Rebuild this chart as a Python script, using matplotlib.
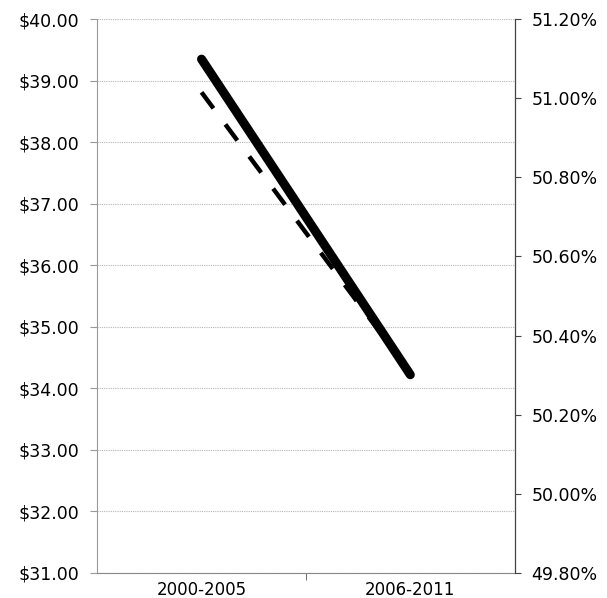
import matplotlib
matplotlib.use("Agg")
import matplotlib.pyplot as plt
from matplotlib.ticker import FuncFormatter

# data
periods = ["2000-2005", "2006-2011"]
price = [39.35, 34.22]          # left axis, dollars
share = [51.015, 50.305]        # right axis, percent

fig = plt.figure(figsize=(6.07, 5.98), dpi=100)
ax = fig.add_axes([0.16, 0.042, 0.688, 0.926])
ax2 = ax.twinx()

x = [0, 1]
ax.plot(x, price, color="black", lw=6.5, solid_capstyle="round", zorder=3)
ax2.plot(x, share, color="black", lw=3.2, dashes=(4.5, 4.5), zorder=3)

ax.set_xlim(-0.5, 1.5)
ax.set_ylim(31, 40)
ax.set_yticks(range(31, 41))
ax.yaxis.set_major_formatter(FuncFormatter(lambda v, p: "${:.2f}".format(v)))
ax2.set_ylim(49.8, 51.2)
ax2.set_yticks([49.8, 50.0, 50.2, 50.4, 50.6, 50.8, 51.0, 51.2])
ax2.yaxis.set_major_formatter(FuncFormatter(lambda v, p: "{:.2f}%".format(v)))

ax.set_xticks(x)
ax.set_xticklabels(periods)
ax.set_xticks([0.5], minor=True)
ax.tick_params(axis="x", which="major", length=0, labelsize=12, pad=6)
ax.tick_params(axis="x", which="minor", length=5, color="#555555")
ax.tick_params(axis="y", length=5, color="#999999", labelsize=12.5, pad=8)
ax2.tick_params(axis="y", length=4, color="#444444", labelsize=12.5, pad=8)

ax.grid(axis="y", color="#b5b5b5", lw=0.8, ls=(0, (1, 1)))
ax.set_axisbelow(True)

ax.spines["top"].set_visible(False)
ax2.spines["top"].set_visible(False)
ax.spines["left"].set_color("#999999")
ax.spines["left"].set_linestyle((0, (1, 1)))
ax.spines["bottom"].set_color("#888888")
ax2.spines["left"].set_visible(False)
ax2.spines["bottom"].set_visible(False)
ax2.spines["right"].set_color("#444444")

fig.savefig("out.png", dpi=100)
